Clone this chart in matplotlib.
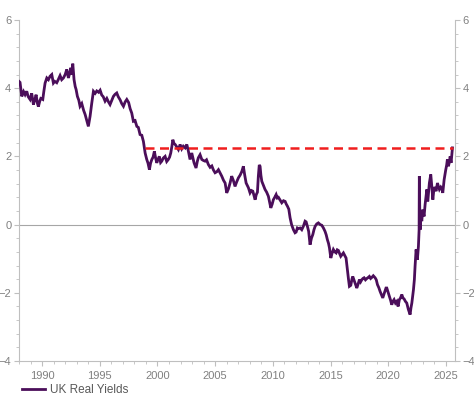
import matplotlib
matplotlib.use("Agg")
import matplotlib.pyplot as plt
from matplotlib.ticker import MultipleLocator

plt.rcParams["font.family"] = ["Liberation Sans", "DejaVu Sans"]

LINE_COLOR = "#4b0e5a"
TEXT_COLOR = "#808080"
AXIS_COLOR = "#bfbfbf"

# UK real yields (%)
years = [
    1988.00, 1988.09, 1988.24, 1988.40, 1988.53, 1988.67, 1988.80, 1988.96, 1989.10, 1989.25,
    1989.40, 1989.48, 1989.60, 1989.68, 1989.80, 1989.89, 1990.06, 1990.15, 1990.26, 1990.41,
    1990.55, 1990.69, 1990.84, 1990.98, 1991.10, 1991.27, 1991.40, 1991.56, 1991.70, 1991.85,
    1992.00, 1992.14, 1992.28, 1992.40, 1992.49, 1992.58, 1992.66, 1992.77, 1992.87, 1992.95,
    1993.06, 1993.18, 1993.29, 1993.44, 1993.60, 1993.73, 1993.87, 1994.01, 1994.16, 1994.30,
    1994.45, 1994.60, 1994.74, 1994.90, 1995.03, 1995.17, 1995.30, 1995.46, 1995.61, 1995.75,
    1995.89, 1996.05, 1996.18, 1996.32, 1996.47, 1996.60, 1996.76, 1996.90, 1997.05, 1997.20,
    1997.34, 1997.50, 1997.63, 1997.77, 1997.91, 1998.06, 1998.21, 1998.34, 1998.49, 1998.64,
    1998.78, 1998.93, 1999.07, 1999.18, 1999.30, 1999.40, 1999.51, 1999.62, 1999.73, 1999.84,
    1999.94, 2000.05, 2000.16, 2000.27, 2000.37, 2000.50, 2000.66, 2000.80, 2000.94, 2001.05,
    2001.15, 2001.25, 2001.33, 2001.43, 2001.53, 2001.67, 2001.81, 2001.96, 2002.10, 2002.24,
    2002.40, 2002.54, 2002.68, 2002.82, 2002.97, 2003.07, 2003.17, 2003.34, 2003.45, 2003.54,
    2003.69, 2003.84, 2003.98, 2004.12, 2004.25, 2004.41, 2004.56, 2004.71, 2004.85, 2004.99,
    2005.14, 2005.28, 2005.42, 2005.57, 2005.72, 2005.86, 2006.00, 2006.15, 2006.29, 2006.43,
    2006.57, 2006.72, 2006.86, 2007.01, 2007.16, 2007.31, 2007.44, 2007.56, 2007.68, 2007.88,
    2008.02, 2008.14, 2008.26, 2008.36, 2008.46, 2008.56, 2008.66, 2008.74, 2008.82, 2008.89,
    2008.96, 2009.04, 2009.18, 2009.32, 2009.46, 2009.61, 2009.72, 2009.82, 2009.94, 2010.04,
    2010.16, 2010.28, 2010.38, 2010.48, 2010.62, 2010.77, 2010.92, 2011.06, 2011.16, 2011.26,
    2011.38, 2011.49, 2011.62, 2011.78, 2011.92, 2012.01, 2012.12, 2012.21, 2012.36, 2012.50,
    2012.64, 2012.79, 2012.88, 2012.99, 2013.10, 2013.22, 2013.34, 2013.46, 2013.56, 2013.66,
    2013.80, 2013.94, 2014.10, 2014.24, 2014.38, 2014.52, 2014.62, 2014.72, 2014.82, 2014.90,
    2015.02, 2015.12, 2015.24, 2015.36, 2015.48, 2015.58, 2015.68, 2015.78, 2015.88, 2016.00,
    2016.11, 2016.22, 2016.34, 2016.45, 2016.55, 2016.63, 2016.75, 2016.85, 2016.92, 2017.02,
    2017.12, 2017.27, 2017.38, 2017.50, 2017.60, 2017.70, 2017.80, 2017.90, 2018.02, 2018.14,
    2018.26, 2018.36, 2018.47, 2018.57, 2018.70, 2018.86, 2018.96, 2019.06, 2019.18, 2019.29,
    2019.40, 2019.52, 2019.62, 2019.72, 2019.80, 2019.87, 2019.98, 2020.10, 2020.20, 2020.30,
    2020.40, 2020.50, 2020.62, 2020.74, 2020.85, 2020.96, 2021.06, 2021.17, 2021.27, 2021.37,
    2021.48, 2021.60, 2021.74, 2021.89, 2021.96, 2022.04, 2022.11, 2022.18, 2022.26, 2022.32,
    2022.41, 2022.46, 2022.52, 2022.61, 2022.67, 2022.69, 2022.72, 2022.76, 2022.82, 2022.90,
    2022.99, 2023.10, 2023.19, 2023.34, 2023.42, 2023.50, 2023.56, 2023.68, 2023.77, 2023.86,
    2023.97, 2024.06, 2024.14, 2024.26, 2024.36, 2024.43, 2024.55, 2024.65, 2024.72, 2024.84,
    2024.98, 2025.06, 2025.12, 2025.21, 2025.30, 2025.36, 2025.44, 2025.56,
]
real_yields = [
    4.20, 4.17, 3.76, 3.90, 3.81, 3.91, 3.75, 3.67, 3.85, 3.52,
    3.70, 3.81, 3.55, 3.46, 3.62, 3.70, 3.67, 3.90, 4.15, 4.30,
    4.25, 4.35, 4.40, 4.15, 4.20, 4.16, 4.25, 4.37, 4.25, 4.30,
    4.40, 4.55, 4.30, 4.45, 4.60, 4.40, 4.72, 4.25, 4.05, 3.96,
    3.76, 3.65, 3.47, 3.55, 3.35, 3.23, 3.05, 2.88, 3.18, 3.55,
    3.91, 3.85, 3.92, 3.88, 3.94, 3.80, 3.75, 3.62, 3.70, 3.60,
    3.52, 3.65, 3.76, 3.82, 3.86, 3.75, 3.66, 3.55, 3.47, 3.60,
    3.67, 3.58, 3.40, 3.27, 3.03, 3.05, 2.88, 2.85, 2.64, 2.62,
    2.44, 2.10, 1.91, 1.80, 1.61, 1.80, 1.91, 1.98, 2.15, 1.95,
    1.81, 1.92, 2.00, 1.82, 1.86, 1.95, 2.00, 1.85, 1.91, 1.98,
    2.10, 2.30, 2.49, 2.38, 2.35, 2.28, 2.20, 2.35, 2.22, 2.30,
    2.25, 2.35, 2.15, 1.91, 2.10, 1.95, 1.81, 1.66, 1.85, 1.96,
    2.05, 1.91, 1.88, 1.86, 1.90, 1.76, 1.68, 1.72, 1.60, 1.52,
    1.55, 1.61, 1.52, 1.42, 1.30, 1.22, 0.93, 1.05, 1.22, 1.42,
    1.30, 1.12, 1.25, 1.37, 1.45, 1.56, 1.71, 1.45, 1.22, 1.08,
    0.93, 1.00, 0.98, 0.85, 0.73, 0.88, 0.95, 1.42, 1.75, 1.71,
    1.45, 1.27, 1.15, 1.03, 0.95, 0.83, 0.65, 0.49, 0.60, 0.73,
    0.80, 0.88, 0.78, 0.80, 0.72, 0.64, 0.70, 0.68, 0.60, 0.54,
    0.45, 0.20, 0.00, -0.15, -0.24, -0.22, -0.10, -0.12, -0.10, -0.15,
    -0.05, 0.10, 0.08, -0.05, -0.20, -0.59, -0.40, -0.29, -0.15, -0.05,
    0.02, 0.05, 0.00, -0.02, -0.10, -0.20, -0.30, -0.44, -0.55, -0.68,
    -0.98, -0.85, -0.73, -0.80, -0.83, -0.74, -0.76, -0.85, -0.93, -0.88,
    -0.83, -0.90, -0.98, -1.32, -1.60, -1.81, -1.78, -1.60, -1.52, -1.62,
    -1.71, -1.86, -1.75, -1.61, -1.68, -1.62, -1.58, -1.56, -1.62, -1.58,
    -1.55, -1.52, -1.58, -1.55, -1.50, -1.56, -1.62, -1.76, -1.85, -1.96,
    -2.05, -2.15, -2.05, -1.95, -1.86, -1.86, -1.98, -2.10, -2.22, -2.35,
    -2.25, -2.20, -2.30, -2.25, -2.40, -2.20, -2.15, -2.05, -2.15, -2.18,
    -2.25, -2.30, -2.49, -2.64, -2.45, -2.30, -2.10, -1.91, -1.61, -1.22,
    -0.73, -0.90, -1.03, -0.64, -0.15, 1.42, 0.60, -0.15, 0.34, 0.10,
    0.44, 0.24, 0.59, 1.03, 0.68, 1.00, 1.22, 1.47, 1.12, 0.73,
    1.10, 1.05, 0.98, 1.22, 1.10, 1.03, 1.10, 1.05, 0.93, 1.32,
    1.61, 1.75, 1.91, 1.71, 1.85, 2.00, 1.81, 2.25,
]

# dashed reference level
ref_start, ref_end = 1998.9, 2025.6
ref_level = 2.24

fig = plt.figure(figsize=(4.74, 3.99), dpi=100)
ax = fig.add_axes([19 / 474, 38 / 399, 436 / 474, 341 / 399])

ax.axhline(0, color="#a6a6a6", linewidth=0.8, zorder=1)
ax.plot(years, real_yields, color=LINE_COLOR, linewidth=2.0, label="UK Real Yields",
        solid_joinstyle="miter", zorder=3)
ax.plot([ref_start, ref_end], [ref_level, ref_level], color="#f01e1e",
        linewidth=1.8, dashes=(3.6, 2.2), zorder=4)

ax.set_xlim(1988.0, 2025.78)
ax.set_ylim(-4, 6)
ax.xaxis.set_major_locator(MultipleLocator(5))
ax.xaxis.set_minor_locator(MultipleLocator(1))
ax.yaxis.set_major_locator(MultipleLocator(2))
ax.yaxis.set_minor_locator(MultipleLocator(0.4))

for side in ["left", "right", "bottom"]:
    ax.spines[side].set_color(AXIS_COLOR)
    ax.spines[side].set_linewidth(0.8)
ax.spines["top"].set_visible(False)

ax.tick_params(axis="both", which="both", direction="out", color=AXIS_COLOR,
               labelcolor=TEXT_COLOR, labelsize=8)
ax.tick_params(axis="y", which="both", left=True, right=True, labelleft=True, labelright=True, pad=2)
ax.tick_params(which="major", length=3.5, width=0.8)
ax.tick_params(which="minor", length=2.5, width=0.6)
ax.tick_params(axis="x", pad=4)

fig.legend(loc="center left", bbox_to_anchor=(22 / 474, 1 - 390 / 399),
           frameon=False, fontsize=8.5, handlelength=1.95, handletextpad=0.45,
           borderpad=0, borderaxespad=0, labelcolor="#595959")

fig.savefig("out.png", dpi=100)
